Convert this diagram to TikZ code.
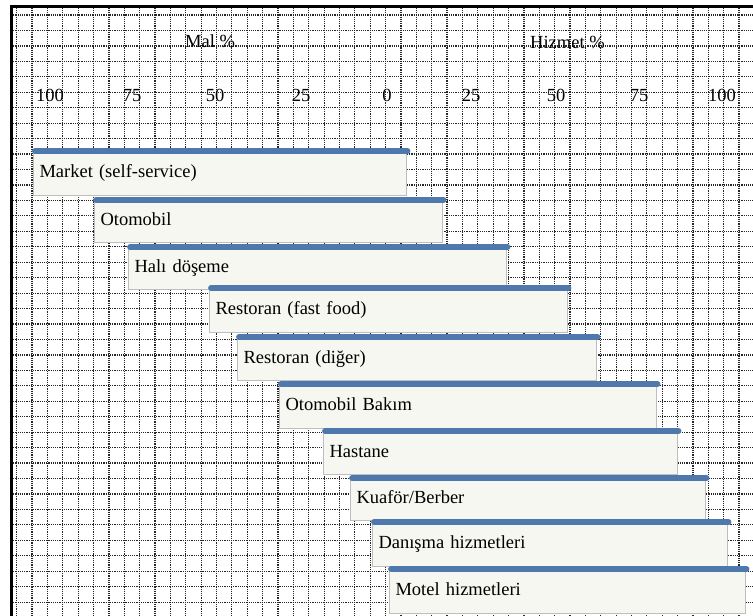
\documentclass[tikz,border=0pt]{standalone}
\usepackage{fontspec}
\setmainfont{Liberation Serif}
\definecolor{barblue}{HTML}{4F79AD}
\definecolor{barfill}{HTML}{F7F7F2}
\definecolor{baredge}{HTML}{BEBEBE}
\begin{document}
\begin{tikzpicture}[x=1pt,y=-1pt,
  gridline/.style={line width=1.2pt, dash pattern=on 1.2pt off 1pt, draw=black!85},
  frameline/.style={line width=3pt, draw=black, line join=miter},
  barbox/.style={draw=baredge, fill=barfill, line width=1pt, anchor=north west,
    inner xsep=6pt, inner ysep=0pt, align=left, text height=12.6pt, text depth=4pt,
    font=\fontsize{18.5}{20}\selectfont},
  topbar/.style={draw=barblue, line width=5.8pt, line cap=round},
  axislabel/.style={font=\fontsize{18.5}{20}\selectfont, inner sep=0pt}
]
\useasboundingbox (0,0) rectangle (753,616);
\fill[white] (0,0) rectangle (753,616);

% dotted grid
\foreach \k in {0,...,47}
  \draw[gridline] (16.7+\k*15.37,7.7) -- (16.7+\k*15.37,616);
\foreach \k in {0,...,38}
  \draw[gridline] (13.2,15+\k*15.45) -- (753,15+\k*15.45);

% frame on top and left
\draw[frameline] (753,6.2) -- (11.7,6.2) -- (11.7,616);

% axis headings
\node[axislabel, anchor=base west] (mal) at (185,47.5) {Mal \%};
\node[axislabel, anchor=base west] (hizmet) at (530,48.5) {Hizmet \%};

% scale values
\foreach \x/\v [count=\n] in {50/100,132/75,215/50,301/25,387/0,471/25,556/50,639/75,722/100}
  \node[axislabel, anchor=base] (tick\n) at (\x,101.5) {\v};

% bars: left / right / top / bottom / label
\foreach \l/\r/\t/\b/\txt [count=\n] in {
    33/406/151/195/{Market (self-service)},
    94/442/200/242/{Otomobil},
    128/506/247/289/{Halı döşeme},
    209/567/288/332/{Restoran (fast food)},
    237/596/337/380/{Restoran (diğer)},
    279/656/384/428/{Otomobil Bakım},
    323/677/431/474/{Hastane},
    350/705/478/520/{Kuaför/Berber},
    372/727/522/566/{Danışma hizmetleri},
    389/745/569/613/{Motel hizmetleri}} {
  \node[barbox, minimum width={(\r-\l)*1pt}, minimum height={(\b-\t)*1pt},
        text width={(\r-\l-12)*1pt}] (bar\n) at (\l,\t) {\txt};
  \draw[topbar] ([xshift=2pt]bar\n.north west) -- ([xshift=0.5pt]bar\n.north east);
}
\end{tikzpicture}
\end{document}
